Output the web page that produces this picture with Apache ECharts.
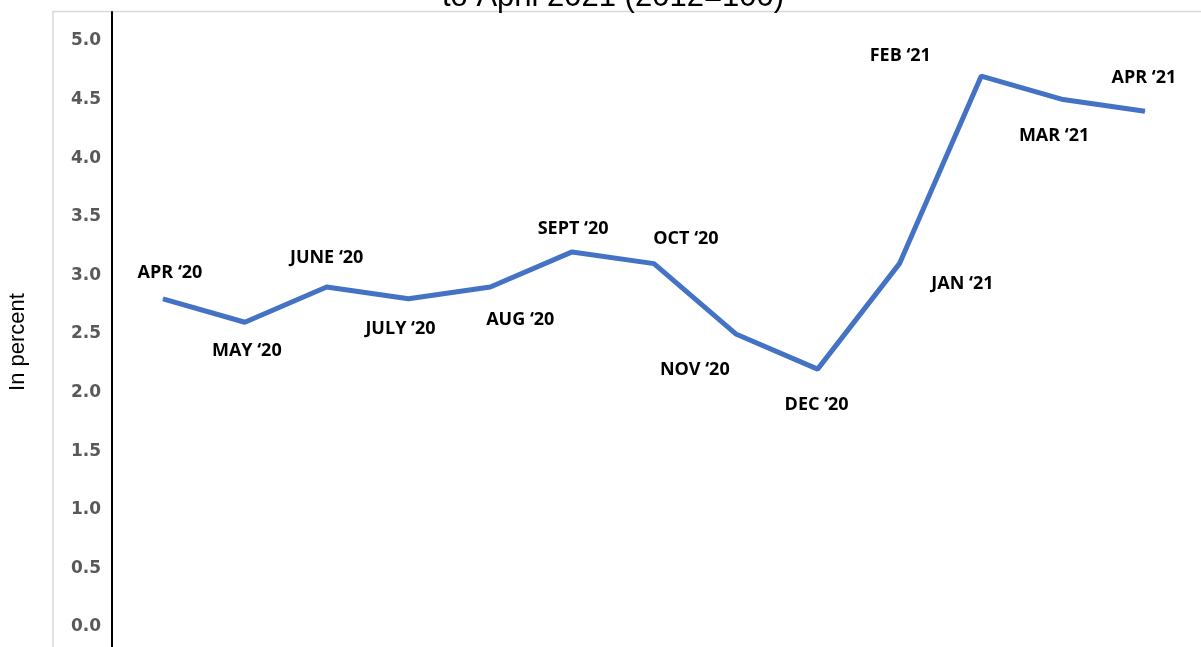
<!DOCTYPE html>
<html>
<head>
<meta charset="utf-8">
<script src="https://cdn.jsdelivr.net/npm/echarts@6/dist/echarts.min.js"></script>
<style>html,body{margin:0;padding:0;background:#fff;}#chart{width:1201px;height:647px;}</style>
</head>
<body>
<div id="chart"></div>
<script>
const months = ["APR \u201820","MAY \u201820","JUNE \u201820","JULY \u201820","AUG \u201820","SEPT \u201820","OCT \u201820","NOV \u201820","DEC \u201820","JAN \u201821","FEB \u201821","MAR \u201821","APR \u201821"];
const inflation = [2.8, 2.6, 2.9, 2.8, 2.9, 3.2, 3.1, 2.5, 2.2, 3.1, 4.7, 4.5, 4.4];
const yTicks = [0, 0.5, 1, 1.5, 2, 2.5, 3, 3.5, 4, 4.5, 5];
const titleText = "to April 2021 (2012=100)";
const yName = "In percent";
// label placement offsets (style only)
const labelOffsets = [[7,-26],[2,29],[0,-29],[-8,30],[30,33],[1,-23],[32,-25],[-41,36],[-1,36],[63,20],[-81,-20],[-9,36],[-1,-33]];

const chart = echarts.init(document.getElementById('chart'));
chart.setOption({
  animation: false,
  grid: {left: 112, right: 0, top: 12, bottom: 0},
  xAxis: {type: 'value', min: -0.623, max: 12.685, show: false},
  yAxis: {
    type: 'value', min: -0.171, max: 5.247,
    axisLine: {show: true, onZero: false, lineStyle: {color: '#000', width: 2}},
    axisTick: {show: false},
    splitLine: {show: false},
    axisLabel: {
      customValues: yTicks,
      formatter: v => Number(v).toFixed(1),
      color: '#595959', fontFamily: 'DejaVu Sans', fontWeight: 'bold', fontSize: 17, margin: 11
    }
  },
  graphic: [
    {type: 'rect', silent: true, shape: {x: 53, y: 11.5, width: 1200, height: 700}, style: {fill: 'none', stroke: '#d9d9d9', lineWidth: 1.5}},
    {type: 'text', silent: true, x: 613, y: 13, style: {text: titleText, font: '31px "Liberation Sans"', fill: '#000', textAlign: 'center', textVerticalAlign: 'bottom'}},
    {type: 'text', silent: true, x: 18, y: 342, rotation: Math.PI/2, style: {text: yName, font: '22px "Liberation Sans"', fill: '#000', textAlign: 'center', textVerticalAlign: 'middle'}}
  ],
  series: [{
    type: 'line',
    data: inflation.map((v, i) => ({
      value: [i, v],
      name: months[i],
      label: {offset: labelOffsets[i]}
    })),
    lineStyle: {color: '#4472C4', width: 5},
    itemStyle: {color: '#4472C4'},
    symbol: 'circle', symbolSize: 1,
    label: {
      show: true, position: 'inside',
      formatter: p => p.name,
      color: '#000', fontFamily: 'Open Sans', fontWeight: 'bold', fontSize: 18
    }
  }]
});
</script>
</body>
</html>
